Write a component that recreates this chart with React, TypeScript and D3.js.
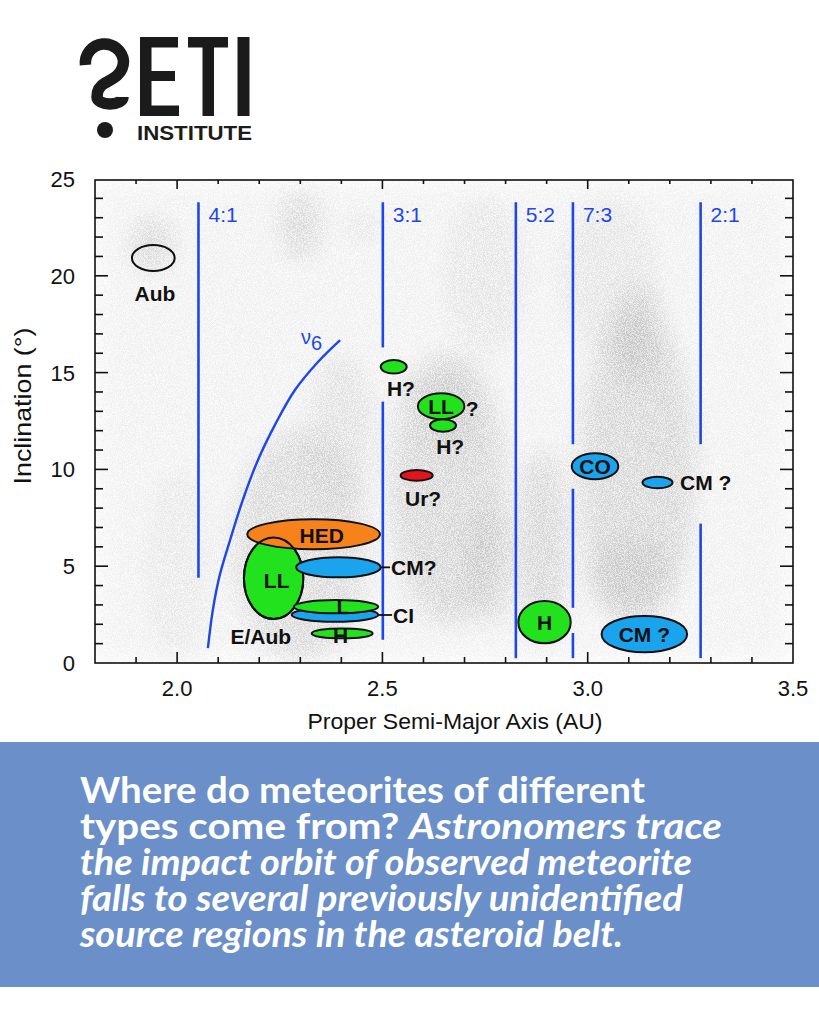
import React, { useEffect, useRef } from 'react';
import * as d3 from 'd3';

const W = 819;
const H = 1024;

// mean-motion resonances: semi-major axis (AU) and the visible line segments (inclination, deg)
const resonanceNames = ['4:1', '3:1', '5:2', '7:3', '2:1'];
const resonanceA = [2.052, 2.501, 2.825, 2.964, 3.275];
const resonanceSegments: [number, number][][] = [
  [[4.4, 23.8]],
  [[16.3, 23.8], [1.2, 13.5]],
  [[0.25, 23.8]],
  [[11.3, 23.8], [2.85, 9.0], [0.25, 1.55]],
  [[11.3, 23.8], [0.25, 7.2]],
];

// nu6 secular resonance
const nu6A = [2.075, 2.087, 2.104, 2.129, 2.16, 2.197, 2.238, 2.287, 2.343, 2.397];
const nu6I = [0.77, 2.74, 4.55, 6.35, 8.42, 10.49, 12.29, 14.1, 15.55, 16.68];

// source regions (centre and half-widths in AU / deg), in drawing order
const regionNames = ['Aub', 'H?', 'LL', 'H?', 'Ur?', 'CO', 'CM?', 'H', 'CM?', 'LL', 'HED', 'CM?', 'CI', 'L', 'H'];
const regionA = [1.942, 2.5275, 2.643, 2.6476, 2.5834, 3.0178, 3.17, 2.8948, 3.138, 2.235, 2.3324, 2.3928, 2.3845, 2.387, 2.402];
const regionI = [20.92, 15.3, 13.26, 12.27, 9.69, 10.16, 9.32, 2.11, 1.49, 4.38, 6.65, 4.94, 2.49, 2.91, 1.53];
const regionDA = [0.052, 0.0317, 0.0567, 0.0317, 0.039, 0.0567, 0.0365, 0.0638, 0.1042, 0.0723, 0.1615, 0.103, 0.1055, 0.1028, 0.0743];
const regionDI = [0.67, 0.346, 0.671, 0.32, 0.274, 0.671, 0.3, 1.095, 0.94, 2.107, 0.775, 0.517, 0.362, 0.346, 0.258];
const regionType = ['none', 'ordinary', 'ordinary', 'ordinary', 'ureilite', 'carbon', 'carbon', 'ordinary', 'carbon', 'ordinary', 'achondrite', 'carbon', 'carbon', 'ordinary', 'ordinary'];

// labels placed in data coordinates
const labelText = ['Aub', 'H?', 'LL', '?', 'H?', 'Ur?', 'CO', 'CM ?', 'H', 'CM ?', 'HED', 'LL', 'CM?', 'L', 'CI', 'H', 'E/Aub'];
const labelA = [1.946, 2.545, 2.643, 2.703, 2.665, 2.599, 3.018, 3.225, 2.8948, 3.138, 2.352, 2.2425, 2.521, 2.404, 2.526, 2.398, 2.204];
const labelI = [19.11, 14.2, 13.26, 13.17, 11.2, 8.52, 10.16, 9.32, 2.11, 1.49, 6.61, 4.29, 4.94, 2.94, 2.48, 1.42, 1.39];
const labelAlign = ['middle', 'middle', 'middle', 'start', 'middle', 'middle', 'middle', 'start', 'middle', 'middle', 'middle', 'middle', 'start', 'middle', 'start', 'middle', 'middle'];

// leader lines: label index -> region index
const leaders: [number, number][] = [[12, 11], [14, 12]];

// rough asteroid density behind the marks (a, i, half-widths, weight)
const densA = [1.94, 2.3, 2.3, 2.4, 2.66, 2.66, 2.76, 2.89, 3.12, 3.12, 3.1, 2.45, 2.75, 3.05, 2.0, 2.57];
const densI = [21.6, 22.6, 6, 12, 9, 13, 5, 6, 10, 17, 4.5, 22.5, 20, 20, 5, 14.3];
const densDA = [0.05, 0.05, 0.16, 0.08, 0.14, 0.06, 0.05, 0.06, 0.14, 0.06, 0.1, 0.03, 0.1, 0.12, 0.08, 0.03];
const densDI = [1.3, 1.8, 6, 4, 7, 2, 3, 5, 8, 2.5, 2, 0.3, 4, 4, 5, 0.3];
const densW = [0.35, 0.3, 0.3, 0.2, 0.35, 0.3, 0.35, 0.35, 0.35, 0.35, 0.3, 0.5, 0.15, 0.15, 0.1, 0.5];

const caption: { t: string; it: boolean }[][] = [
  [{ t: 'Where do meteorites of different', it: false }],
  [{ t: 'types come from? ', it: false }, { t: 'Astronomers trace', it: true }],
  [{ t: 'the impact orbit of observed meteorite', it: true }],
  [{ t: 'falls to several previously unidentified', it: true }],
  [{ t: 'source regions in the asteroid belt.', it: true }],
];

const fills: Record<string, string> = {
  none: 'none',
  ordinary: '#22e11d',
  carbon: '#1ba4ee',
  ureilite: '#e3141c',
  achondrite: '#f7821c',
};

export default function App() {
  const ref = useRef<SVGSVGElement>(null);

  useEffect(() => {
    if (!ref.current) return;
    const svg = d3.select(ref.current);
    svg.selectAll('*').remove();

    const left = 95, right = 793, top = 180, bottom = 663;
    const x = d3.scaleLinear().domain([1.8, 3.5]).range([left, right]);
    const y = d3.scaleLinear().domain([0, 25]).range([bottom, top - 1]);
    const font = '"Liberation Sans", Arial, sans-serif';
    const blue = '#1d48e6';

    svg.append('rect').attr('width', W).attr('height', H).attr('fill', '#fff');

    // ---- logo
    const logo = svg.append('g').attr('fill', '#1b1b1b');
    logo.append('path')
      .attr('d', 'M85.5 65 A19 19 0 0 1 123.5 61 C123.5 74 113 79 105 83 C99.5 86 97 91 97 97 A13 7 0 0 0 123 97')
      .attr('fill', 'none').attr('stroke', '#1b1b1b').attr('stroke-width', 11.5);
    logo.append('circle').attr('cx', 105).attr('cy', 130).attr('r', 8);
    // E
    logo.append('rect').attr('x', 140).attr('y', 37).attr('width', 11.5).attr('height', 79);
    logo.append('rect').attr('x', 140).attr('y', 37).attr('width', 38).attr('height', 10.5);
    logo.append('rect').attr('x', 140).attr('y', 71).attr('width', 35).attr('height', 10);
    logo.append('rect').attr('x', 140).attr('y', 105.5).attr('width', 39).attr('height', 10.5);
    // T
    logo.append('rect').attr('x', 188).attr('y', 37).attr('width', 40).attr('height', 10.5);
    logo.append('rect').attr('x', 202.5).attr('y', 37).attr('width', 11.5).attr('height', 79);
    // I
    logo.append('rect').attr('x', 237.5).attr('y', 37).attr('width', 12).attr('height', 79);
    logo.append('text').attr('x', 137).attr('y', 140).attr('font-family', font).attr('font-weight', 700)
      .attr('font-size', 21).attr('textLength', 115).attr('lengthAdjust', 'spacingAndGlyphs').text('INSTITUTE');

    // ---- background density
    const defs = svg.append('defs');
    defs.append('clipPath').attr('id', 'plotclip').append('rect')
      .attr('x', left).attr('y', top).attr('width', right - left).attr('height', bottom - top);
    const f = defs.append('filter').attr('id', 'grain').attr('filterUnits', 'userSpaceOnUse')
      .attr('x', left).attr('y', top).attr('width', right - left).attr('height', bottom - top);
    f.append('feGaussianBlur').attr('in', 'SourceGraphic').attr('stdDeviation', 12).attr('result', 'blur');
    f.append('feTurbulence').attr('type', 'fractalNoise').attr('baseFrequency', 1.1).attr('numOctaves', 2).attr('seed', 4).attr('result', 'noise');
    f.append('feColorMatrix').attr('in', 'noise').attr('type', 'matrix')
      .attr('values', '0 0 0 0 0.45  0 0 0 0 0.45  0 0 0 0 0.45  0 0 0 5 -2').attr('result', 'speck');
    f.append('feComposite').attr('in', 'speck').attr('in2', 'blur').attr('operator', 'in').attr('result', 'specked');
    f.append('feColorMatrix').attr('in', 'blur').attr('type', 'matrix')
      .attr('values', '1 0 0 0 0  0 1 0 0 0  0 0 1 0 0  0 0 0 0.35 0').attr('result', 'soft');
    const m = f.append('feMerge');
    m.append('feMergeNode').attr('in', 'soft');
    m.append('feMergeNode').attr('in', 'specked');

    const dens = svg.append('g').attr('clip-path', 'url(#plotclip)').append('g').attr('filter', 'url(#grain)');
    dens.append('rect').attr('x', left).attr('y', top).attr('width', right - left).attr('height', bottom - top)
      .attr('fill', '#999').attr('opacity', 0.14);
    dens.selectAll('ellipse').data(d3.range(densA.length)).join('ellipse')
      .attr('cx', (i) => x(densA[i])).attr('cy', (i) => y(densI[i]))
      .attr('rx', (i) => x(densA[i] + densDA[i]) - x(densA[i]))
      .attr('ry', (i) => y(densI[i]) - y(densI[i] + densDI[i]))
      .attr('fill', '#8a8a8a').attr('opacity', (i) => densW[i]);

    // ---- frame and ticks
    const axes = svg.append('g').attr('stroke', '#111').attr('stroke-width', 1.6);
    axes.append('rect').attr('x', left).attr('y', top).attr('width', right - left).attr('height', bottom - top).attr('fill', 'none');
    const xt = d3.range(19, 35).map((v) => v / 10);
    const isMajorX = (v: number) => Math.abs(v * 2 - Math.round(v * 2)) < 1e-6;
    xt.forEach((v) => {
      const len = isMajorX(v) ? 11 : 6;
      axes.append('line').attr('x1', x(v)).attr('x2', x(v)).attr('y1', bottom).attr('y2', bottom - len);
      axes.append('line').attr('x1', x(v)).attr('x2', x(v)).attr('y1', top).attr('y2', top + len - 2);
    });
    d3.range(1, 25).forEach((v) => {
      const len = v % 5 === 0 ? 13 : 8;
      axes.append('line').attr('x1', left).attr('x2', left + len).attr('y1', y(v)).attr('y2', y(v));
      axes.append('line').attr('x1', right).attr('x2', right - len).attr('y1', y(v)).attr('y2', y(v));
    });

    const lab = svg.append('g').attr('font-family', font).attr('fill', '#111').attr('font-size', 22);
    [2.0, 2.5, 3.0, 3.5].forEach((v) => {
      lab.append('text').attr('x', x(v)).attr('y', 696).attr('text-anchor', 'middle').text(v.toFixed(1));
    });
    [0, 5, 10, 15, 20, 25].forEach((v) => {
      lab.append('text').attr('x', 75).attr('y', y(v) + 8).attr('text-anchor', 'end').text(String(v));
    });
    lab.append('text').attr('x', 455).attr('y', 729).attr('text-anchor', 'middle')
      .attr('textLength', 295).attr('lengthAdjust', 'spacingAndGlyphs').text('Proper Semi-Major Axis (AU)');
    lab.append('text').attr('transform', 'translate(31,406) rotate(-90)').attr('text-anchor', 'middle')
      .attr('font-size', 24).attr('textLength', 157).attr('lengthAdjust', 'spacingAndGlyphs').text('Inclination (°)');

    // ---- resonances
    const res = svg.append('g');
    resonanceA.forEach((a, k) => {
      resonanceSegments[k].forEach(([i0, i1]) => {
        res.append('line').attr('x1', x(a)).attr('x2', x(a)).attr('y1', y(i0)).attr('y2', y(i1))
          .attr('stroke', blue).attr('stroke-width', 2.6);
      });
      res.append('text').attr('x', x(a) + 10).attr('y', y(23.8) + 20).attr('font-family', font)
        .attr('font-size', 21).attr('fill', blue).text(resonanceNames[k]);
    });
    const nu6 = d3.line<number>().x((i) => x(nu6A[i])).y((i) => y(nu6I[i])).curve(d3.curveCatmullRom);
    res.append('path').attr('d', nu6(d3.range(nu6A.length))).attr('fill', 'none').attr('stroke', blue).attr('stroke-width', 2.4);
    const nuLabel = res.append('text').attr('x', x(2.302)).attr('y', y(16.17)).attr('font-family', font)
      .attr('font-size', 20).attr('fill', blue);
    nuLabel.append('tspan').attr('dy', -6).text('ν');
    nuLabel.append('tspan').attr('dy', 6).text('6');

    // ---- source regions
    const reg = svg.append('g').attr('stroke', '#111').attr('stroke-width', 2);
    const drawRegion = (i: number, fill: string) =>
      reg.append('ellipse')
        .attr('cx', x(regionA[i])).attr('cy', y(regionI[i]))
        .attr('rx', x(regionA[i] + regionDA[i]) - x(regionA[i]))
        .attr('ry', y(regionI[i]) - y(regionI[i] + regionDI[i]))
        .attr('fill', fill);
    regionNames.forEach((_, i) => {
      drawRegion(i, fills[regionType[i]]);
      // the big LL outline stays visible over HED
      if (regionNames[i] === 'HED') drawRegion(9, 'none');
    });

    const txt = svg.append('g').attr('font-family', font).attr('font-weight', 700).attr('font-size', 21).attr('fill', '#111');
    leaders.forEach(([li, ri]) => {
      const x0 = x(regionA[ri] + regionDA[ri]);
      txt.append('line').attr('x1', x0).attr('x2', x(labelA[li]) - 1).attr('y1', y(labelI[li])).attr('y2', y(labelI[li]))
        .attr('stroke', '#111').attr('stroke-width', 1.8);
    });
    labelText.forEach((t, i) => {
      txt.append('text').attr('x', x(labelA[i])).attr('y', y(labelI[i])).attr('dy', '0.36em')
        .attr('text-anchor', labelAlign[i]).text(t);
    });

    // ---- caption panel
    svg.append('rect').attr('x', 0).attr('y', 742).attr('width', W).attr('height', 245).attr('fill', '#6b8fc8');
    const capWidths = [565, 642, 612, 603, 543];
    caption.forEach((parts, k) => {
      const t = svg.append('text').attr('x', 80).attr('y', 803 + k * 36).attr('font-family', 'Lato, "Open Sans", sans-serif')
        .attr('font-weight', 700).attr('font-size', 36).attr('fill', '#fff')
        .attr('textLength', capWidths[k]).attr('lengthAdjust', 'spacingAndGlyphs');
      parts.forEach((p) => {
        t.append('tspan').attr('font-style', p.it ? 'italic' : 'normal').text(p.t);
      });
    });
  }, []);

  return <svg ref={ref} width={W} height={H} style={{ position: 'absolute', left: 0, top: 0 }} />;
}
